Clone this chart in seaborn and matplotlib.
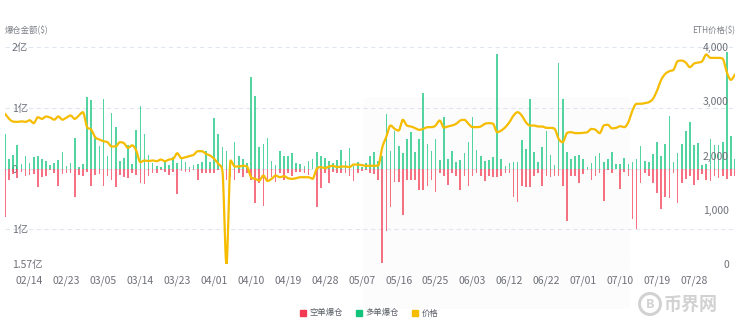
import numpy as np
import pandas as pd
import matplotlib
matplotlib.use("Agg")
import matplotlib.pyplot as plt
from matplotlib.patches import FancyBboxPatch, Circle
from matplotlib.lines import Line2D
import seaborn as sns

sns.set_theme(style="white")
plt.rcParams["font.family"] = ["Noto Sans CJK SC", "DejaVu Sans"]
plt.rcParams["axes.unicode_minus"] = False

# ---- data -------------------------------------------------------------
# trading days (two days absent from the feed)
missing_days = ["2025-03-01", "2025-06-17"]
all_days = pd.date_range("2025-02-08", periods=181, freq="D")
days = all_days[~all_days.isin(pd.to_datetime(missing_days))]
day_labels = list(days.strftime("%m/%d"))

# long liquidations (亿 USD)
long_liq = [
    0.57, 0.16, 0.23, 0.38, 0.07, 0.21, 0.09, 0.19, 0.21, 0.16,
    0.12, 0.06, 0.09, 0.14, 0.27, 0.04, 0.09, 0.51, 0.02, 0.07,
    1.18, 1.12, 0.53, 0.37, 1.14, 0.20, 0.91, 0.69, 0.12, 0.17,
    0.39, 0.07, 0.63, 1.03, 0.57, 0.23, 0.09, 0.04, 0.03, 0.11,
    0.06, 0.19, 0.09, 0.17, 0.11, 0.03, 0.06, 0.08, 0.11, 0.29,
    0.11, 0.84, 0.57, 0.35, 0.29, 0.08, 0.44, 0.21, 0.15, 0.09,
    1.51, 1.20, 0.35, 0.40, 0.50, 0.12, 0.06, 0.29, 0.20, 0.20,
    0.26, 0.09, 0.08, 0.04, 0.12, 0.16, 0.27, 0.21, 0.17, 0.12,
    0.09, 0.14, 0.31, 0.13, 0.34, 0.04, 0.10, 0.03, 0.09, 0.20,
    0.27, 0.13, 0.21, 0.89, 0.29, 0.62, 0.37, 0.26, 0.48, 0.60,
    0.28, 0.48, 1.25, 0.40, 0.29, 0.48, 0.14, 0.85, 0.15, 0.29,
    0.11, 0.14, 0.25, 0.43, 0.85, 0.31, 0.21, 0.12, 0.14, 0.19,
    1.88, 0.16, 0.04, 0.09, 0.11, 0.10, 0.47, 0.32, 1.14, 0.28,
    0.10, 0.36, 0.62, 0.22, 0.06, 1.73, 1.14, 0.28, 0.16, 0.20,
    0.22, 0.16, 0.02, 0.09, 0.21, 0.26, 0.11, 0.15, 0.27, 0.08,
    0.07, 0.17, 0.07, 0.10, 0.16, 0.37, 0.12, 0.10, 0.24, 0.43,
    0.20, 0.40, 0.87, 0.10, 0.26, 0.40, 0.62, 0.76, 0.38, 0.42,
    0.06, 0.07, 0.49, 0.39, 0.39, 0.43, 1.91, 0.53, 0.15,
]

# short liquidations (亿 USD, drawn below zero)
short_liq = [
    0.80, 0.19, 0.09, 0.16, 0.05, 0.12, 0.10, 0.09, 0.30, 0.14,
    0.13, 0.03, 0.08, 0.29, 0.09, 0.08, 0.08, 0.46, 0.10, 0.13,
    0.05, 0.29, 0.10, 0.09, 0.29, 0.13, 0.19, 0.31, 0.10, 0.14,
    0.16, 0.08, 0.10, 0.23, 0.25, 0.13, 0.08, 0.08, 0.03, 0.05,
    0.10, 0.05, 0.42, 0.04, 0.05, 0.05, 0.03, 0.19, 0.07, 0.08,
    0.08, 0.07, 0.03, 0.03, 0.19, 0.14, 0.18, 0.08, 0.14, 0.08,
    0.19, 0.56, 0.24, 0.61, 0.22, 0.14, 0.22, 0.08, 0.18, 0.08,
    0.12, 0.05, 0.05, 0.07, 0.10, 0.01, 0.63, 0.32, 0.08, 0.23,
    0.05, 0.08, 0.08, 0.07, 0.12, 0.20, 0.08, 0.04, 0.03, 0.08,
    0.09, 0.18, 1.56, 1.02, 0.64, 0.22, 0.22, 0.76, 0.19, 0.19,
    0.18, 0.35, 0.35, 0.29, 0.18, 0.39, 0.08, 0.13, 0.27, 0.07,
    0.12, 0.35, 0.12, 0.28, 0.13, 0.08, 0.12, 0.20, 0.13, 0.14,
    0.14, 0.13, 0.07, 0.07, 0.47, 0.55, 0.29, 0.31, 0.31, 0.13,
    0.08, 0.29, 0.13, 0.14, 0.13, 0.13, 0.28, 0.86, 0.13, 0.13,
    0.23, 0.09, 0.03, 0.18, 0.12, 0.08, 0.54, 0.02, 0.07, 0.01,
    0.34, 0.05, 0.13, 0.83, 1.00, 0.24, 0.08, 0.12, 0.24, 0.41,
    0.67, 0.46, 0.49, 0.07, 0.56, 0.24, 0.17, 0.12, 0.27, 0.18,
    0.09, 0.18, 0.20, 0.13, 0.16, 0.12, 0.17, 0.12, 0.12,
]

# ETH price (USD)
eth_price = [
    2770, 2675, 2625, 2620, 2630, 2620, 2650, 2596, 2706, 2675,
    2719, 2700, 2660, 2720, 2660, 2700, 2737, 2675, 2737, 2798,
    2522, 2479, 2337, 2295, 2264, 2245, 2166, 2166, 2245, 2227,
    2141, 2187, 2092, 1877, 1908, 1897, 1908, 1895, 1926, 1895,
    1926, 1939, 2042, 1950, 1969, 1988, 2013, 2079, 2079, 2031,
    2000, 1939, 1847, 1723, 0, 1908, 1797, 1797, 1810, 1797,
    1600, 1570, 1540, 1631, 1530, 1570, 1631, 1600, 1620, 1582,
    1570, 1582, 1600, 1600, 1600, 1570, 1755, 1785, 1767, 1797,
    1810, 1785, 1797, 1797, 1785, 1834, 1834, 1822, 1810, 1810,
    1810, 1816, 2153, 2350, 2553, 2492, 2460, 2658, 2553, 2535,
    2505, 2473, 2492, 2522, 2522, 2553, 2645, 2515, 2535, 2553,
    2584, 2645, 2658, 2584, 2522, 2522, 2535, 2584, 2596, 2584,
    2430, 2460, 2522, 2614, 2737, 2798, 2737, 2614, 2553, 2553,
    2535, 2535, 2510, 2510, 2492, 2307, 2245, 2412, 2430, 2412,
    2412, 2418, 2430, 2490, 2473, 2412, 2553, 2565, 2500, 2510,
    2540, 2522, 2615, 2830, 2953, 2953, 2965, 2983, 3045, 3198,
    3395, 3505, 3554, 3579, 3738, 3750, 3713, 3628, 3695, 3713,
    3738, 3862, 3800, 3800, 3800, 3783, 3536, 3395, 3493,
]

left_ticks = [2.0, 1.0, 0.0, -1.0, -1.57]
left_tick_labels = ["2亿", "1亿", "0", "1亿", "1.57亿"]
right_ticks = [0, 1000, 2000, 3000, 4000]
right_tick_labels = ["0", "1,000", "2,000", "3,000", "4,000"]

RED = "#f23b53"
GREEN = "#12c47b"
GOLD = "#f5bc00"
TICK_COLOR = "#6e7079"
GRID_COLOR = "#e0e6f1"


def smooth_curve(y, steps=12):
    """Monotone cubic through every point, flat at local turns."""
    y = np.asarray(y, dtype=float)
    m = len(y)
    d = np.diff(y)
    t = np.zeros(m)
    for i in range(1, m - 1):
        if d[i - 1] * d[i] > 0:
            a = 0.5 * (d[i - 1] + d[i])
            lim = 3 * min(abs(d[i - 1]), abs(d[i]))
            t[i] = np.sign(a) * min(abs(a), lim)
    t[0], t[-1] = d[0], d[-1]
    xs, ys = [], []
    s = np.linspace(0, 1, steps, endpoint=False)
    h00 = 2 * s**3 - 3 * s**2 + 1
    h10 = s**3 - 2 * s**2 + s
    h01 = -2 * s**3 + 3 * s**2
    h11 = s**3 - s**2
    for i in range(m - 1):
        xs.append(i + s)
        ys.append(h00 * y[i] + h10 * t[i] + h01 * y[i + 1] + h11 * t[i + 1])
    xs.append(np.array([m - 1.0]))
    ys.append(np.array([y[-1]]))
    return np.concatenate(xs), np.concatenate(ys)


# ---- figure -----------------------------------------------------------
W, H = 746, 330
fig = plt.figure(figsize=(W / 100, H / 100), dpi=100)
fig.patch.set_facecolor("white")

# pale floating panel in the middle, behind the plot
panel = FancyBboxPatch((363 / W, 1 - 309 / H), (630 - 363) / W, (309 - 97) / H,
                       boxstyle="round,pad=0,rounding_size=0.012",
                       transform=fig.transFigure, facecolor="#fcfcfc",
                       edgecolor="none", zorder=-5)
fig.patches.append(panel)

ax = fig.add_axes([5 / W, 1 - 264 / H, 730 / W, 217 / H])
ax.set_facecolor("none")
ax.set_zorder(1)

n = len(eth_price)
idx = np.arange(n)
liq = pd.DataFrame({
    "day": np.concatenate([idx, idx]),
    "amount": np.concatenate([np.array(long_liq), -np.array(short_liq)]),
    "side": ["多单爆仓"] * n + ["空单爆仓"] * n,
})
sns.barplot(data=liq, x="day", y="amount", hue="side", dodge=False,
            palette={"多单爆仓": GREEN, "空单爆仓": RED}, width=0.4,
            saturation=1, errorbar=None, linewidth=0, alpha=0.72,
            legend=False, ax=ax)

for v in left_ticks:
    ax.axhline(v, color=GRID_COLOR, lw=0.8, ls=(0, (4, 3)), zorder=0)

ax.set_xlim(0, n - 1)
ax.set_ylim(-1.57, 2.0)
ax.set_xlabel("")
ax.set_ylabel("")
for sp in ax.spines.values():
    sp.set_visible(False)

ax.set_yticks(left_ticks)
ax.set_yticklabels(left_tick_labels)
ax.tick_params(axis="y", length=0, pad=-5, labelsize=7.5, labelcolor=TICK_COLOR)
for lab in ax.get_yticklabels():
    lab.set_horizontalalignment("left")

xt = list(range(6, 169, 9))
ax.set_xticks(xt)
ax.set_xticklabels([day_labels[i] for i in xt])
ax.tick_params(axis="x", length=0, pad=8, labelsize=7.5, labelcolor=TICK_COLOR)

# price line on the secondary axis
ax2 = ax.twinx()
ax2.set_zorder(2)
ax2.set_facecolor("none")
px, py = smooth_curve(eth_price)
sns.lineplot(x=px, y=py, ax=ax2, color=GOLD, linewidth=1.6,
             estimator=None, sort=False)
ax2.set_xlim(0, n - 1)
ax2.set_ylim(0, 4000)
ax2.set_ylabel("")
for sp in ax2.spines.values():
    sp.set_visible(False)
ax2.set_yticks(right_ticks)
ax2.set_yticklabels(right_tick_labels)
ax2.tick_params(axis="y", length=0, pad=-4.3, labelsize=7.5, labelcolor=TICK_COLOR)
for lab in ax2.get_yticklabels():
    lab.set_horizontalalignment("right")

# axis titles
fig.text(5 / W, 1 - 30 / H, "爆仓金额($)", fontsize=6, color="#7d8087",
         ha="left", va="center")
fig.text(735 / W, 1 - 30 / H, "ETH价格($)", fontsize=6, color="#7d8087",
         ha="right", va="center")

# legend
handles = [
    Line2D([], [], marker="s", linestyle="none", markersize=4, color=RED),
    Line2D([], [], marker="s", linestyle="none", markersize=4, color=GREEN),
    Line2D([], [], marker="s", linestyle="none", markersize=4, color=GOLD),
]
fig.legend(handles, ["空单爆仓", "多单爆仓", "价格"], loc="center",
           bbox_to_anchor=(369 / W, 1 - 313 / H), ncol=3, frameon=False,
           fontsize=6, handletextpad=0.3, columnspacing=1.6, handlelength=0.8,
           labelcolor="#5a5d66")

# site mark
ring = Circle((650 / 100, (H - 304) / 100), 0.105,
              transform=fig.dpi_scale_trans, facecolor="none",
              edgecolor="#d2d2d2", linewidth=2.2)
fig.patches.append(ring)
fig.text(650 / W, 1 - 304 / H, "B", fontsize=9, fontweight="bold",
         color="#d2d2d2", ha="center", va="center")
fig.text(664 / W, 1 - 304 / H, "币界网", fontsize=13, fontweight="bold",
         color="#d2d2d2", ha="left", va="center")

fig.savefig("out.png", dpi=100, facecolor="white")
